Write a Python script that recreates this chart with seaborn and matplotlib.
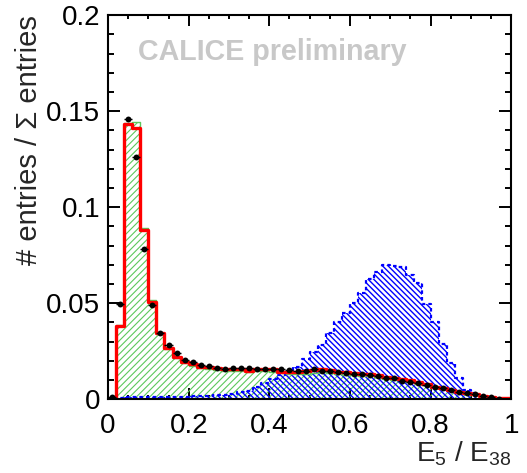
import numpy as np
import matplotlib
matplotlib.use("Agg")
import matplotlib.pyplot as plt
from matplotlib.ticker import MultipleLocator
import seaborn as sns

# E5/E38 histograms: 50 bins of width 0.02 between 0 and 1
n_bins = 50
x_range = (0.0, 1.0)
bin_edges = np.linspace(x_range[0], x_range[1], n_bins + 1)
bin_centers = 0.5 * (bin_edges[:-1] + bin_edges[1:])
half_width = 0.5 * (bin_edges[1] - bin_edges[0])

# pion simulation (green, hatched)
pion_mc = [0.0, 0.0385, 0.1440, 0.1445, 0.0890, 0.0515, 0.0340, 0.0262, 0.0216, 0.0186,
           0.0174, 0.0162, 0.0156, 0.0150, 0.0148, 0.0147, 0.0147, 0.0140, 0.0145, 0.0145,
           0.0144, 0.0134, 0.0131, 0.0130, 0.0133, 0.0138, 0.0140, 0.0137, 0.0130, 0.0128,
           0.0124, 0.0121, 0.0119, 0.0116, 0.0107, 0.0102, 0.0098, 0.0092, 0.0082, 0.0075,
           0.0062, 0.0055, 0.0046, 0.0037, 0.0029, 0.0023, 0.0017, 0.0010, 0.0007, 0.0005]

# electron simulation (blue, hatched, dashed outline)
electron_mc = [0.0003, 0.0008, 0.0010, 0.0010, 0.0010, 0.0010, 0.0010, 0.0010, 0.0010, 0.0012,
               0.0015, 0.0016, 0.0018, 0.0020, 0.0022, 0.0028, 0.0035, 0.0045, 0.0062, 0.0086,
               0.0105, 0.0125, 0.0140, 0.0170, 0.0208, 0.0248, 0.0282, 0.0346, 0.0404, 0.0447,
               0.0503, 0.0552, 0.0625, 0.0665, 0.0700, 0.0696, 0.0688, 0.0648, 0.0604, 0.0496,
               0.0404, 0.0290, 0.0186, 0.0108, 0.0047, 0.0030, 0.0010, 0.0005, 0.0002, 0.0]

# combined simulation (red line)
mc_sum = [0.0, 0.0380, 0.1434, 0.1413, 0.0882, 0.0508, 0.0343, 0.0265, 0.0221, 0.0192,
          0.0181, 0.0170, 0.0166, 0.0160, 0.0157, 0.0157, 0.0157, 0.0148, 0.0155, 0.0155,
          0.0155, 0.0143, 0.0141, 0.0141, 0.0146, 0.0152, 0.0155, 0.0152, 0.0143, 0.0141,
          0.0136, 0.0132, 0.0129, 0.0126, 0.0116, 0.0110, 0.0106, 0.0099, 0.0088, 0.0080,
          0.0066, 0.0058, 0.0049, 0.0039, 0.0031, 0.0025, 0.0018, 0.0011, 0.0008, 0.0006]

# measured data (black points)
data = [0.0010, 0.0494, 0.1457, 0.1262, 0.0783, 0.0491, 0.0343, 0.0282, 0.0242, 0.0204,
        0.0192, 0.0178, 0.0174, 0.0160, 0.0155, 0.0160, 0.0160, 0.0164, 0.0157, 0.0157,
        0.0155, 0.0155, 0.0151, 0.0148, 0.0148, 0.0155, 0.0148, 0.0146, 0.0143, 0.0134,
        0.0131, 0.0129, 0.0125, 0.0120, 0.0111, 0.0108, 0.0096, 0.0090, 0.0082, 0.0073,
        0.0064, 0.0059, 0.0050, 0.0038, 0.0030, 0.0026, 0.0016, 0.0012, 0.0003, np.nan]

xticks = [0.0, 0.2, 0.4, 0.6, 0.8, 1.0]
xtick_labels = ["0", "0.2", "0.4", "0.6", "0.8", "1"]
yticks = [0.0, 0.05, 0.10, 0.15, 0.20]
ytick_labels = ["0", "0.05", "0.1", "0.15", "0.2"]

GREEN = "#5cc85c"
BLUE = "#0000ff"
RED = "#ff0000"

sns.set_theme(style="ticks")
plt.rcParams["font.family"] = ["Liberation Sans", "DejaVu Sans"]
plt.rcParams["mathtext.fontset"] = "custom"
plt.rcParams["mathtext.rm"] = "Liberation Sans"
plt.rcParams["mathtext.it"] = "Liberation Sans:italic"
plt.rcParams["axes.linewidth"] = 1.5

fig, ax = plt.subplots(figsize=(5.27, 4.73), dpi=100)
fig.subplots_adjust(left=0.205, right=0.970, top=0.968, bottom=0.156)

hist_kw = dict(x=bin_centers, bins=n_bins, binrange=x_range, element="step", ax=ax)

# green hatched pion template
plt.rcParams["hatch.linewidth"] = 0.8
sns.histplot(weights=pion_mc, fill=True, color=GREEN, facecolor="none",
             edgecolor=GREEN, hatch="/////", linewidth=0, **hist_kw)
sns.histplot(weights=pion_mc, fill=False, color=GREEN, linewidth=1.0, **hist_kw)

# blue hatched electron template with dashed outline
plt.rcParams["hatch.linewidth"] = 1.0
sns.histplot(weights=electron_mc, fill=True, color=BLUE, facecolor="none",
             edgecolor=BLUE, hatch="\\" * 6, linewidth=0, **hist_kw)
sns.histplot(weights=electron_mc, fill=False, color=BLUE, linewidth=1.6,
             linestyle=(0, (1.6, 1.4)), **hist_kw)

# red combined simulation
sns.histplot(weights=mc_sum, fill=False, color=RED, linewidth=2.4, **hist_kw)

# data points with bin-width bars
ax.errorbar(bin_centers, data, xerr=half_width, fmt="none", ecolor="black",
            elinewidth=1.0, capsize=0, zorder=5)
sns.scatterplot(x=bin_centers, y=data, color="black", s=18, linewidth=0, zorder=6, ax=ax)

ax.set_xlim(0, 1)
ax.set_ylim(0, 0.2)
ax.set_xticks(xticks, labels=xtick_labels)
ax.set_yticks(yticks, labels=ytick_labels)
ax.xaxis.set_minor_locator(MultipleLocator(0.05))
ax.yaxis.set_minor_locator(MultipleLocator(0.01))
ax.tick_params(axis="both", which="both", direction="in", top=True, right=True,
               width=1.4, colors="black", labelsize=20)
ax.tick_params(axis="x", which="major", length=8, pad=10)
ax.tick_params(axis="x", which="minor", length=3)
ax.tick_params(axis="y", which="major", length=8.5, pad=5.5)
ax.tick_params(axis="y", which="minor", length=4.3)
for sp in ax.spines.values():
    sp.set_color("black")
    sp.set_linewidth(1.5)

ax.set_ylabel("# entries / \u03a3 entries", fontsize=21, loc="top", labelpad=2)
ax.set_xlabel(r"$\mathregular{E_{5}\ /\ E_{38}}$", fontsize=20, loc="right")
ax.xaxis.set_label_coords(1.0, -0.106)

fig.text(138 / 527, 1 - 60 / 473, "CALICE preliminary", fontsize=20.6, fontweight="bold",
         color="#c8c8c8", ha="left", va="baseline")

fig.savefig("out.png", dpi=100)
